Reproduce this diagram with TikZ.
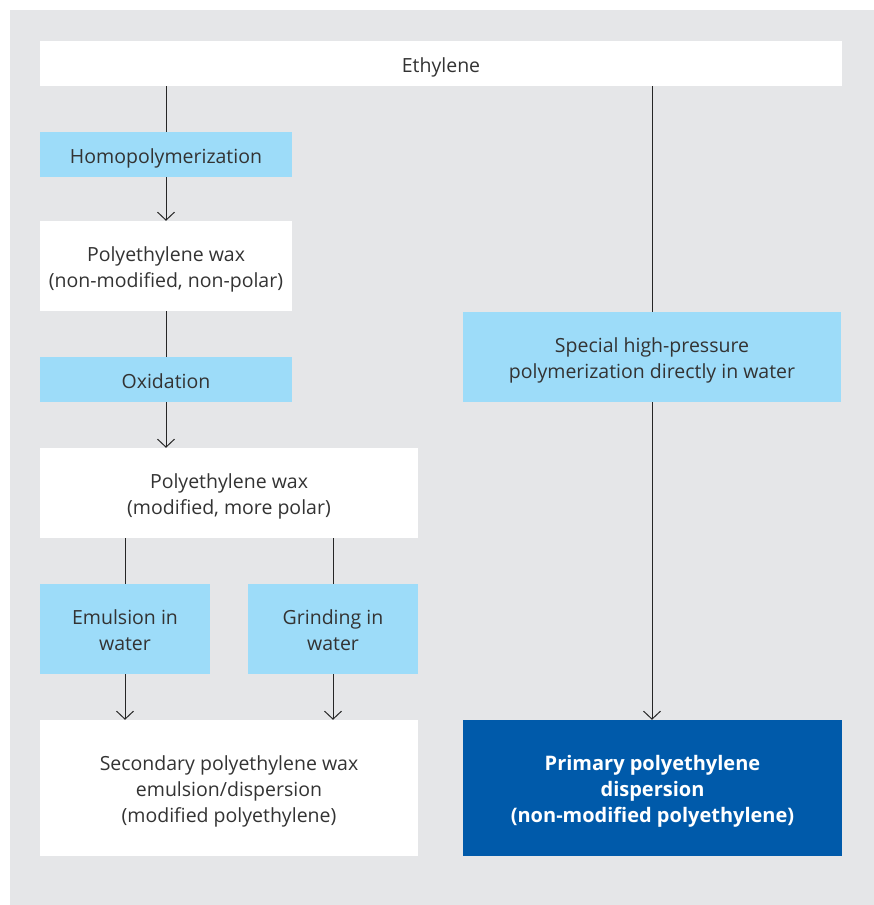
\documentclass[tikz,border=0pt]{standalone}
\usepackage{fontspec}
\setmainfont{Open Sans}
\usepackage{xcolor}
\usetikzlibrary{arrows.meta}

\definecolor{panelgrey}{HTML}{E5E6E8}
\definecolor{stepblue}{HTML}{9DDCF9}
\definecolor{darkblue}{HTML}{005AAA}
\definecolor{textgrey}{HTML}{333333}

% struts that fix where the text sits in its box
\newcommand{\liftstrut}{\rule[-4.7pt]{0pt}{27.2pt}}
\newcommand{\footstrut}{\rule[-4.7pt]{0pt}{0pt}}

\begin{document}
\begin{tikzpicture}[x=1pt,y=-1pt,
    every node/.style={font=\fontsize{19.5}{26}\selectfont, text=textgrey, align=center, inner sep=0pt},
    whitebox/.style={fill=white},
    stepbox/.style={fill=stepblue},
    resultbox/.style={fill=darkblue, text=white, font=\fontsize{20}{26}\selectfont\bfseries},
    link/.style={line width=1pt, draw=black!85},
    arrow/.style={link, -{Straight Barb[length=8pt,width=17pt]}}]
          \useasboundingbox (0,0) rectangle (874,905);
          \fill[panelgrey] (10,10) rectangle (874,905);
          % left branch
          \node[whitebox, minimum width=802pt, minimum height=45pt] (eth) at (441,63.5) {\liftstrut Ethylene};
          \node[stepbox, minimum width=252pt, minimum height=45pt] (homo) at (166,154.5) {\liftstrut Homopolymerization};
          \node[whitebox, minimum width=252pt, minimum height=90pt] (wax1) at (166,266) {\liftstrut Polyethylene wax\\(non-modified, non-polar)};
          \node[stepbox, minimum width=252pt, minimum height=45pt] (oxid) at (166,379.5) {\liftstrut Oxidation};
          \node[whitebox, minimum width=378pt, minimum height=90pt] (wax2) at (229,493) {\liftstrut Polyethylene wax\\(modified, more polar)};
          \node[stepbox, minimum width=170pt, minimum height=90pt] (emul) at (125,629) {\liftstrut Emulsion in\\water\footstrut};
          \node[stepbox, minimum width=170pt, minimum height=90pt] (grind) at (333,629) {\liftstrut Grinding in\\water\footstrut};
          \node[whitebox, minimum width=378pt, minimum height=136pt] (second) at (229,788) {\liftstrut Secondary polyethylene wax\\emulsion/dispersion\\(modified polyethylene)};
          % right branch
          \node[stepbox, minimum width=378pt, minimum height=90pt] (special) at (652,357) {\liftstrut Special high-pressure\\polymerization directly in water};
          \node[resultbox, minimum width=379pt, minimum height=136pt] (primary) at (652.5,788) {\liftstrut Primary polyethylene\\dispersion\\(non-modified polyethylene)};
          \draw[link] (homo.north |- eth.south) -- (homo.north);
          \draw[arrow] (homo.south) -- (wax1.north);
          \draw[link] (wax1.south) -- (oxid.north);
          \draw[arrow] (oxid.south) -- (oxid.south |- wax2.north);
          \draw[link] (emul.north |- wax2.south) -- (emul.north);
          \draw[link] (grind.north |- wax2.south) -- (grind.north);
          \draw[arrow] (emul.south) -- (emul.south |- second.north);
          \draw[arrow] (grind.south) -- (grind.south |- second.north);
          \draw[link] (special.north |- eth.south) -- (special.north);
          \draw[arrow] (special.south) -- (special.south |- primary.north);
        \end{tikzpicture}
\end{document}
